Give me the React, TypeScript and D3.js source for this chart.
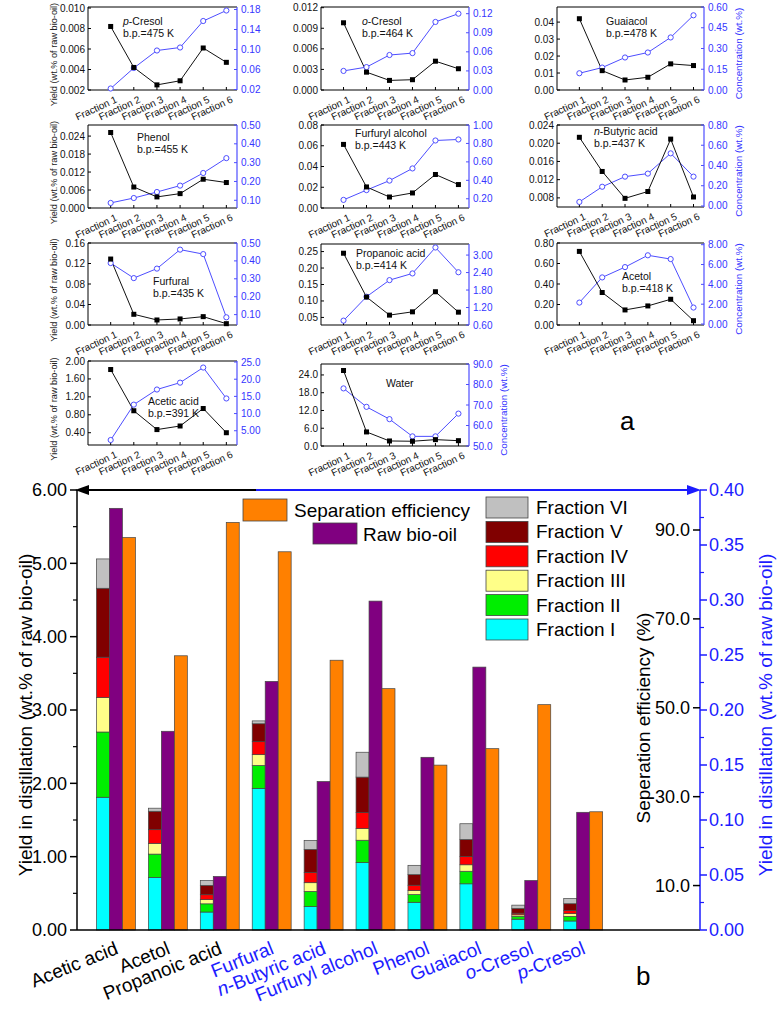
import React from "react";
import * as d3 from "d3";

// ---------- Panel (a) data ----------
const fractions = ["Fraction 1", "Fraction 2", "Fraction 3", "Fraction 4", "Fraction 5", "Fraction 6"];

const pCresolYield = [0.0082, 0.0042, 0.0025, 0.0029, 0.0061, 0.0047];
const pCresolConc = [0.022, 0.063, 0.098, 0.104, 0.157, 0.178];
const oCresolYield = [0.0098, 0.0026, 0.0014, 0.0015, 0.0042, 0.0031];
const oCresolConc = [0.03, 0.036, 0.055, 0.058, 0.107, 0.12];
const guaiacolYield = [0.042, 0.0114, 0.0059, 0.0075, 0.0154, 0.0144];
const guaiacolConc = [0.121, 0.162, 0.235, 0.271, 0.38, 0.54];
const phenolYield = [0.0252, 0.007, 0.0037, 0.0048, 0.0096, 0.0085];
const phenolConc = [0.086, 0.112, 0.144, 0.178, 0.245, 0.324];
const furfurylYield = [0.0613, 0.0203, 0.0106, 0.0145, 0.0323, 0.0226];
const furfurylConc = [0.188, 0.294, 0.397, 0.529, 0.832, 0.843];
const butyricYield = [0.0213, 0.0138, 0.0079, 0.0094, 0.0209, 0.0082];
const butyricConc = [0.04, 0.19, 0.29, 0.32, 0.52, 0.29];
const furfuralYield = [0.1287, 0.0209, 0.0098, 0.0118, 0.0163, 0.0026];
const furfuralConc = [0.388, 0.304, 0.357, 0.463, 0.438, 0.085];
const propanoicYield = [0.245, 0.112, 0.057, 0.067, 0.128, 0.066];
const propanoicConc = [0.75, 1.57, 2.14, 2.37, 3.26, 2.41];
const acetolYield = [0.718, 0.317, 0.147, 0.186, 0.251, 0.042];
const acetolConc = [2.16, 4.7, 5.74, 6.93, 6.55, 1.66];
const aceticYield = [1.81, 0.89, 0.47, 0.55, 0.94, 0.4];
const aceticConc = [2.3, 12.6, 17.0, 19.0, 23.4, 14.4];
const waterYield = [25.5, 4.75, 1.7, 1.6, 2.15, 1.8];
const waterConc = [78.1, 69.1, 63.1, 54.7, 54.7, 65.8];

// ---------- Panel (b) data ----------
const compounds = ["Acetic acid", "Acetol", "Propanoic acid", "Furfural", "n-Butyric acid", "Furfuryl alcohol", "Phenol", "Guaiacol", "o-Cresol", "p-Cresol"];
const compoundAxis = ["left", "left", "left", "right", "right", "right", "right", "right", "right", "right"];
const fractionYields = [aceticYield, acetolYield, propanoicYield, furfuralYield, butyricYield, furfurylYield, phenolYield, guaiacolYield, oCresolYield, pCresolYield];
const rawBioOil = [5.75, 2.71, 0.73, 0.226, 0.135, 0.299, 0.157, 0.239, 0.045, 0.107];
const separationEfficiency = [88.3, 61.7, 91.7, 85.1, 60.7, 54.3, 37.1, 40.8, 50.7, 26.6];
const fractionNames = ["Fraction I", "Fraction II", "Fraction III", "Fraction IV", "Fraction V", "Fraction VI"];
const fractionColors = ["#00ffff", "#00ee00", "#ffff88", "#ff0000", "#800000", "#c0c0c0"];
const leftTicks = [0, 1, 2, 3, 4, 5, 6];
const rightTicks = [0, 0.05, 0.1, 0.15, 0.2, 0.25, 0.3, 0.35, 0.4];
const pctTicks = [10, 30, 50, 70, 90];

const FONT = "Arial, 'Liberation Sans', sans-serif";
const BLUE_LINE = "#4d4dff";
const BLUE_TEXT = "#3535ff";
const BLUE_B = "#1c1cff";

const rng = (a: number, b: number, s: number) => d3.range(a, b + s / 2, s);

const fmtOrigin = (v: number) => (Math.abs(v) >= 10 ? v.toFixed(1) : v.toFixed(2));

type PanelCfg = {
  name: React.ReactNode;
  bp?: string;
  yields: number[];
  conc: number[];
  box: { x: number; y: number; w: number; h: number };
  yl: [number, number];
  ylTicks: number[];
  ylFmt: (v: number) => string;
  yr: [number, number];
  yrTicks: number[];
  yrFmt: (v: number) => string;
  note: [number, number];
  leftTitle?: boolean;
  rightTitle?: boolean;
};

const f = (d: number) => (v: number) => v.toFixed(d);

const panels: PanelCfg[] = [
  { name: <><tspan fontStyle="italic">p</tspan>-Cresol</>, bp: "b.p.=475 K", yields: pCresolYield, conc: pCresolConc,
    box: { x: 88, y: 7, w: 149, h: 83 }, yl: [0.002, 0.0101], ylTicks: rng(0.002, 0.01, 0.002), ylFmt: f(3),
    yr: [0.019, 0.185], yrTicks: rng(0.02, 0.18, 0.04), yrFmt: f(2), note: [35, 18], leftTitle: true },
  { name: <><tspan fontStyle="italic">o</tspan>-Cresol</>, bp: "b.p.=464 K", yields: oCresolYield, conc: oCresolConc,
    box: { x: 321, y: 7, w: 148, h: 83 }, yl: [0, 0.0121], ylTicks: rng(0, 0.012, 0.003), ylFmt: f(3),
    yr: [0, 0.1305], yrTicks: rng(0, 0.12, 0.03), yrFmt: f(2), note: [41, 18] },
  { name: <>Guaiacol</>, bp: "b.p.=478 K", yields: guaiacolYield, conc: guaiacolConc,
    box: { x: 557, y: 7, w: 147, h: 83 }, yl: [0, 0.0489], ylTicks: rng(0, 0.04, 0.01), ylFmt: f(2),
    yr: [0, 0.6], yrTicks: rng(0, 0.6, 0.15), yrFmt: f(2), note: [49, 18], rightTitle: true },
  { name: <>Phenol</>, bp: "b.p.=455 K", yields: phenolYield, conc: phenolConc,
    box: { x: 88, y: 125, w: 149, h: 83 }, yl: [0, 0.0277], ylTicks: rng(0, 0.024, 0.006), ylFmt: f(3),
    yr: [0.059, 0.5], yrTicks: rng(0.1, 0.5, 0.1), yrFmt: f(2), note: [49, 16], leftTitle: true },
  { name: <>Furfuryl alcohol</>, bp: "b.p.=443 K", yields: furfurylYield, conc: furfurylConc,
    box: { x: 321, y: 125, w: 148, h: 83 }, yl: [0, 0.08], ylTicks: rng(0, 0.08, 0.02), ylFmt: f(2),
    yr: [0.1, 1.0], yrTicks: rng(0.2, 1.0, 0.2), yrFmt: f(2), note: [34, 12] },
  { name: <><tspan fontStyle="italic">n</tspan>-Butyric acid</>, bp: "b.p.=437 K", yields: butyricYield, conc: butyricConc,
    box: { x: 557, y: 125, w: 147, h: 82 }, yl: [0.006, 0.024], ylTicks: rng(0.008, 0.024, 0.004), ylFmt: f(3),
    yr: [-0.01, 0.8], yrTicks: rng(0, 0.8, 0.2), yrFmt: f(2), note: [37, 10], rightTitle: true },
  { name: <>Furfural</>, bp: "b.p.=435 K", yields: furfuralYield, conc: furfuralConc,
    box: { x: 88, y: 243, w: 149, h: 82 }, yl: [0, 0.16], ylTicks: rng(0, 0.16, 0.04), ylFmt: f(2),
    yr: [0.042, 0.5], yrTicks: rng(0.1, 0.5, 0.1), yrFmt: f(2), note: [65, 42], leftTitle: true },
  { name: <>Propanoic acid</>, bp: "b.p.=414 K", yields: propanoicYield, conc: propanoicConc,
    box: { x: 321, y: 244, w: 148, h: 81 }, yl: [0.027, 0.273], ylTicks: rng(0.05, 0.25, 0.05), ylFmt: f(2),
    yr: [0.6, 3.38], yrTicks: rng(0.6, 3.0, 0.6), yrFmt: f(2), note: [35, 13] },
  { name: <>Acetol</>, bp: "b.p.=418 K", yields: acetolYield, conc: acetolConc,
    box: { x: 557, y: 243, w: 147, h: 82 }, yl: [0, 0.8], ylTicks: rng(0, 0.8, 0.2), ylFmt: f(2),
    yr: [-0.1, 8.17], yrTicks: rng(0, 8, 2), yrFmt: f(2), note: [65, 37], rightTitle: true },
  { name: <>Acetic acid</>, bp: "b.p.=391 K", yields: aceticYield, conc: aceticConc,
    box: { x: 88, y: 361, w: 149, h: 84 }, yl: [0.126, 2.0], ylTicks: rng(0.4, 2.0, 0.4), ylFmt: f(2),
    yr: [0.85, 25.3], yrTicks: rng(5, 25, 5), yrFmt: fmtOrigin, note: [60, 44], leftTitle: true },
  { name: <>Water</>, yields: waterYield, conc: waterConc,
    box: { x: 321, y: 364, w: 148, h: 82 }, yl: [0, 27.7], ylTicks: rng(0, 24, 6), ylFmt: f(1),
    yr: [50, 90], yrTicks: rng(50, 90, 10), yrFmt: f(1), note: [65, 23], rightTitle: true },
];

function SmallPanel({ p }: { p: PanelCfg }) {
  const { x: bx, y: by, w, h } = p.box;
  const x = d3.scaleLinear().domain([0.02, 6.46]).range([bx, bx + w]);
  const yl = d3.scaleLinear().domain(p.yl).range([by + h, by]);
  const yr = d3.scaleLinear().domain(p.yr).range([by + h, by]);
  const lineL = d3.line<number>().x((_, i) => x(i + 1)).y((d) => yl(d));
  const lineR = d3.line<number>().x((_, i) => x(i + 1)).y((d) => yr(d));
  const bottom = by + h;
  return (
    <g fontFamily={FONT}>
      <line x1={bx} y1={by} x2={bx + w} y2={by} stroke="#000" strokeWidth={1} />
      <line x1={bx} y1={bottom} x2={bx + w} y2={bottom} stroke="#000" strokeWidth={1} />
      <line x1={bx} y1={by} x2={bx} y2={bottom} stroke="#000" strokeWidth={1} />
      <line x1={bx + w} y1={by} x2={bx + w} y2={bottom} stroke={BLUE_LINE} strokeWidth={1.2} />
      {p.ylTicks.map((t, i) => (
        <g key={"l" + i}>
          <line x1={bx} x2={bx + 3} y1={yl(t)} y2={yl(t)} stroke="#000" />
          <text x={bx - 3} y={yl(t)} dy="0.35em" textAnchor="end" fontSize={10} fill="#111">{p.ylFmt(t)}</text>
        </g>
      ))}
      {p.yrTicks.map((t, i) => (
        <g key={"r" + i}>
          <line x1={bx + w} x2={bx + w - 3} y1={yr(t)} y2={yr(t)} stroke={BLUE_LINE} />
          <text x={bx + w + 4} y={yr(t)} dy="0.35em" textAnchor="start" fontSize={10} fill={BLUE_TEXT}>{p.yrFmt(t)}</text>
        </g>
      ))}
      {fractions.map((fr, i) => (
        <g key={"x" + i}>
          <line x1={x(i + 1)} x2={x(i + 1)} y1={bottom} y2={bottom - 3} stroke="#000" />
          <text transform={`translate(${x(i + 1) + 4},${bottom + 5}) rotate(-25)`} dy="0.75em" textAnchor="end" fontSize={10} fill="#111">{fr}</text>
        </g>
      ))}
      <path d={lineR(p.conc) || ""} fill="none" stroke={BLUE_LINE} strokeWidth={1} />
      <path d={lineL(p.yields) || ""} fill="none" stroke="#111" strokeWidth={1} />
      {p.conc.map((v, i) => (
        <circle key={"c" + i} cx={x(i + 1)} cy={yr(v)} r={2.6} fill="#fff" stroke={BLUE_LINE} strokeWidth={1} />
      ))}
      {p.yields.map((v, i) => (
        <rect key={"s" + i} x={x(i + 1) - 2.5} y={yl(v) - 2.5} width={5} height={5} fill="#000" />
      ))}
      <text x={bx + p.note[0]} y={by + p.note[1]} fontSize={10.5} fill="#111">{p.name}</text>
      {p.bp && <text x={bx + p.note[0]} y={by + p.note[1] + 12} fontSize={10.5} fill="#111">{p.bp}</text>}
      {p.leftTitle && (
        <text transform={`translate(57,${by + h / 2 + 6}) rotate(-90)`} textAnchor="middle" fontSize={9.2} fill="#222">Yield (wt.% of raw bio-oil)</text>
      )}
      {p.rightTitle && (
        <text transform={`translate(${bx + w + 38},${by + h / 2 + 5}) rotate(-90)`} textAnchor="middle" fontSize={9.8} fill={BLUE_TEXT}>Concentration (wt.%)</text>
      )}
    </g>
  );
}

function CompoundLabel({ name }: { name: string }) {
  const m = name.match(/^([nop])-(.*)$/);
  if (m) return <><tspan fontStyle="italic">{m[1]}</tspan>-{m[2]}</>;
  return <>{name}</>;
}

function BottomChart() {
  const L = 77, R = 700, T = 490, B = 930;
  const bx = d3.scaleLinear().domain([0, 12]).range([L, R]);
  const yLeft = d3.scaleLinear().domain([0, 6]).range([B, T]);
  const yRight = d3.scaleLinear().domain([0, 0.4]).range([B, T]);
  const yPct = d3.scaleLinear().domain([0, 99]).range([B, T]);
  const bw = bx(0.25) - bx(0);

  const rows = fractionYields.map((ys) => {
    const o: Record<string, number> = {};
    ys.forEach((v, j) => (o["f" + j] = v));
    return o;
  });
  const stack = d3.stack<Record<string, number>>().keys(fractionNames.map((_, j) => "f" + j));
  const series = stack(rows);

  const leftMinor = d3.range(0.5, 6, 1);
  const rightMinor = d3.range(0.025, 0.4, 0.05);

  return (
    <g fontFamily={FONT}>
      {series.map((s, j) => (
        <g key={"st" + j}>
          {s.map((d, i) => {
            const sc = compoundAxis[i] === "left" ? yLeft : yRight;
            const cx = bx(i + 0.5);
            return (
              <rect key={i} x={cx - bw / 2} y={sc(d[1])} width={bw} height={sc(d[0]) - sc(d[1])}
                fill={fractionColors[j]} stroke="#444" strokeWidth={0.7} />
            );
          })}
        </g>
      ))}
      {rawBioOil.map((v, i) => {
        const sc = compoundAxis[i] === "left" ? yLeft : yRight;
        return <rect key={"raw" + i} x={bx(i + 0.75) - bw / 2} y={sc(v)} width={bw} height={B - sc(v)} fill="#800080" stroke="#444" strokeWidth={0.7} />;
      })}
      {separationEfficiency.map((v, i) => (
        <rect key={"sep" + i} x={bx(i + 1) - bw / 2} y={yPct(v)} width={bw} height={B - yPct(v)} fill="#ff8000" stroke="#444" strokeWidth={0.7} />
      ))}

      <line x1={L} y1={T} x2={L} y2={B} stroke="#000" strokeWidth={1.5} />
      <line x1={L} y1={B} x2={R} y2={B} stroke="#000" strokeWidth={1.5} />
      <line x1={R} y1={T} x2={R} y2={B} stroke={BLUE_B} strokeWidth={1.5} />
      {leftTicks.map((t) => (
        <g key={"lt" + t}>
          <line x1={L - 7} x2={L} y1={yLeft(t)} y2={yLeft(t)} stroke="#000" strokeWidth={1.5} />
          <text x={L - 10} y={yLeft(t)} dy="0.35em" textAnchor="end" fontSize={18} fill="#000">{t.toFixed(2)}</text>
        </g>
      ))}
      {leftMinor.map((t) => (
        <line key={"lm" + t} x1={L - 4} x2={L} y1={yLeft(t)} y2={yLeft(t)} stroke="#000" strokeWidth={1.2} />
      ))}
      {rightTicks.map((t) => (
        <g key={"rt" + t}>
          <line x1={R} x2={R + 7} y1={yRight(t)} y2={yRight(t)} stroke={BLUE_B} strokeWidth={1.5} />
          <text x={R + 9} y={yRight(t)} dy="0.35em" textAnchor="start" fontSize={18} fill={BLUE_B}>{t.toFixed(2)}</text>
        </g>
      ))}
      {rightMinor.map((t) => (
        <line key={"rm" + t} x1={R} x2={R + 4} y1={yRight(t)} y2={yRight(t)} stroke={BLUE_B} strokeWidth={1.2} />
      ))}
      {pctTicks.map((t) => (
        <g key={"pt" + t}>
          <line x1={R - 7} x2={R} y1={yPct(t)} y2={yPct(t)} stroke="#000" strokeWidth={1.5} />
          <text x={R - 10} y={yPct(t)} dy="0.35em" textAnchor="end" fontSize={18} fill="#000">{t.toFixed(1)}</text>
        </g>
      ))}

      <line x1={L + 10} y1={T} x2={256} y2={T} stroke="#000" strokeWidth={2} />
      <path d={`M${L - 2},${T} L${L + 12},${T - 5} L${L + 12},${T + 5} Z`} fill="#000" />
      <line x1={256} y1={T} x2={R - 10} y2={T} stroke={BLUE_B} strokeWidth={2} />
      <path d={`M${R + 1},${T} L${R - 13},${T - 5} L${R - 13},${T + 5} Z`} fill={BLUE_B} />

      {compounds.map((c, i) => (
        <text key={"cat" + i} transform={`translate(${bx(i + 0.75) - 2},${B + 10}) rotate(-22)`} dy="0.75em" textAnchor="end"
          fontSize={19} fill={compoundAxis[i] === "left" ? "#000" : BLUE_B}>
          <CompoundLabel name={c} />
        </text>
      ))}

      <text transform={`translate(32,${(T + B) / 2 + 5}) rotate(-90)`} textAnchor="middle" fontSize={19} fill="#000">Yield in distillation (wt.% of raw bio-oil)</text>
      <text transform={`translate(650,718) rotate(-90)`} textAnchor="middle" fontSize={19} fill="#000">Seperation efficiency (%)</text>
      <text transform={`translate(772,${(T + B) / 2 + 5}) rotate(-90)`} textAnchor="middle" fontSize={19} fill={BLUE_B}>Yield in distillation (wt.% of raw bio-oil)</text>

      <rect x={243} y={499} width={44} height={22} fill="#ff8000" stroke="#444" strokeWidth={0.8} />
      <text x={294} y={517} fontSize={19} fill="#000">Separation efficiency</text>
      <rect x={313} y={523} width={44} height={21} fill="#800080" stroke="#444" strokeWidth={0.8} />
      <text x={363} y={541} fontSize={19} fill="#000">Raw bio-oil</text>
      {fractionNames.map((n, j) => {
        const k = 5 - j;
        const y0 = 497 + k * 24.4;
        return (
          <g key={"lg" + j}>
            <rect x={486} y={y0} width={42} height={21} fill={fractionColors[j]} stroke="#444" strokeWidth={0.8} />
            <text x={536} y={y0 + 17} fontSize={19} fill="#000">{n}</text>
          </g>
        );
      })}
    </g>
  );
}

export default function App() {
  return (
    <svg width={780} height={1019} style={{ position: "absolute", left: 0, top: 0, background: "#fff" }} fontFamily={FONT}>
      <rect x={0} y={0} width={780} height={1019} fill="#fff" />
      {panels.map((p, i) => (
        <SmallPanel key={i} p={p} />
      ))}
      <text x={620} y={430} fontSize={26} fill="#000">a</text>
      <BottomChart />
      <text x={636} y={985} fontSize={26} fill="#000">b</text>
    </svg>
  );
}
